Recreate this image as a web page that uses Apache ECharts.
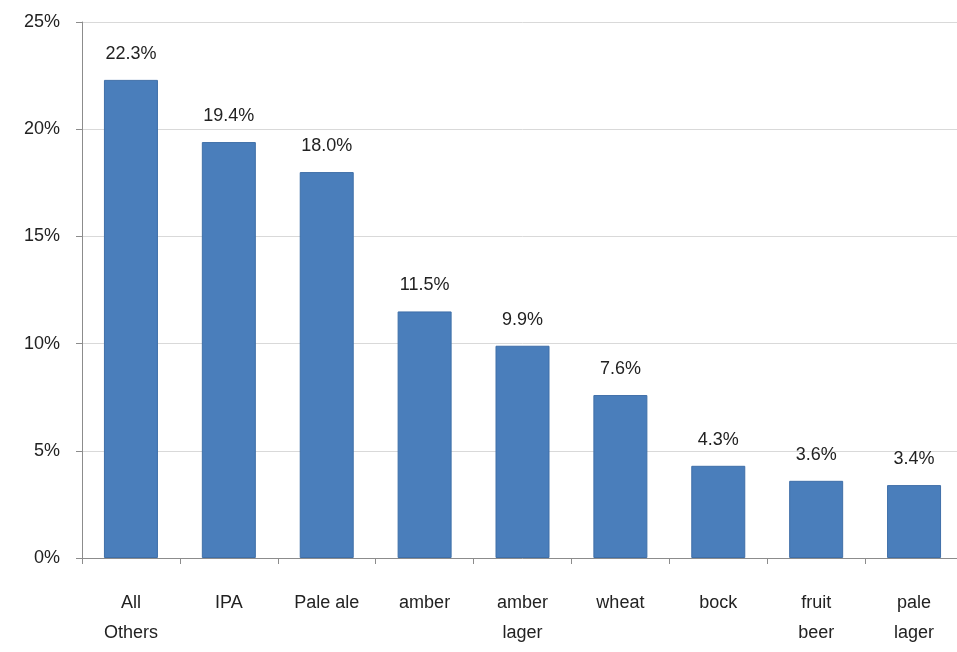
<!DOCTYPE html>
<html>
<head>
<meta charset="utf-8">
<script src="https://cdn.jsdelivr.net/npm/echarts@6/dist/echarts.min.js"></script>
<style>
  html, body { margin: 0; padding: 0; background: #fff; overflow: hidden; }
  /* the plot area runs a few pixels past the right edge of the window */
  #chart { width: 963px; height: 652px; }
</style>
</head>
<body>
<div id="chart"></div>
<script>
// Beer style share, in percent
const categories = ['All\nOthers', 'IPA', 'Pale ale', 'amber', 'amber\nlager', 'wheat', 'bock', 'fruit\nbeer', 'pale\nlager'];
const shares = [22.3, 19.4, 18.0, 11.5, 9.9, 7.6, 4.3, 3.6, 3.4];

const fontFamily = '"Liberation Sans", Arial, sans-serif';
const chart = echarts.init(document.getElementById('chart'));

chart.setOption({
  animation: false,
  backgroundColor: '#ffffff',
  grid: { left: 82, right: 0, top: 22, bottom: 94, containLabel: false },
  xAxis: {
    type: 'category',
    data: categories,
    axisLine: { show: true, lineStyle: { color: '#8c8c8c', width: 1 } },
    axisTick: { show: true, alignWithLabel: false, length: 6, lineStyle: { color: '#8c8c8c' } },
    axisLabel: {
      color: '#222',
      fontFamily: fontFamily,
      fontSize: 18,
      lineHeight: 30,
      margin: 30,
      interval: 0
    }
  },
  yAxis: {
    type: 'value',
    min: 0,
    max: 25,
    interval: 5,
    axisLine: { show: true, lineStyle: { color: '#8c8c8c', width: 1 } },
    axisTick: { show: true, length: 6, lineStyle: { color: '#8c8c8c' } },
    splitLine: { show: true, lineStyle: { color: '#d9d9d9', width: 1 } },
    axisLabel: {
      color: '#222',
      fontFamily: fontFamily,
      fontSize: 18,
      margin: 22,
      formatter: '{value}%'
    }
  },
  series: [{
    type: 'bar',
    data: shares,
    barWidth: 54,
    itemStyle: { color: '#4a7ebb', borderColor: '#3f6fa8', borderWidth: 1 },
    label: {
      show: true,
      position: 'top',
      distance: 17,
      color: '#222',
      fontFamily: fontFamily,
      fontSize: 18,
      formatter: p => p.value.toFixed(1) + '%'
    }
  }]
});
</script>
</body>
</html>
